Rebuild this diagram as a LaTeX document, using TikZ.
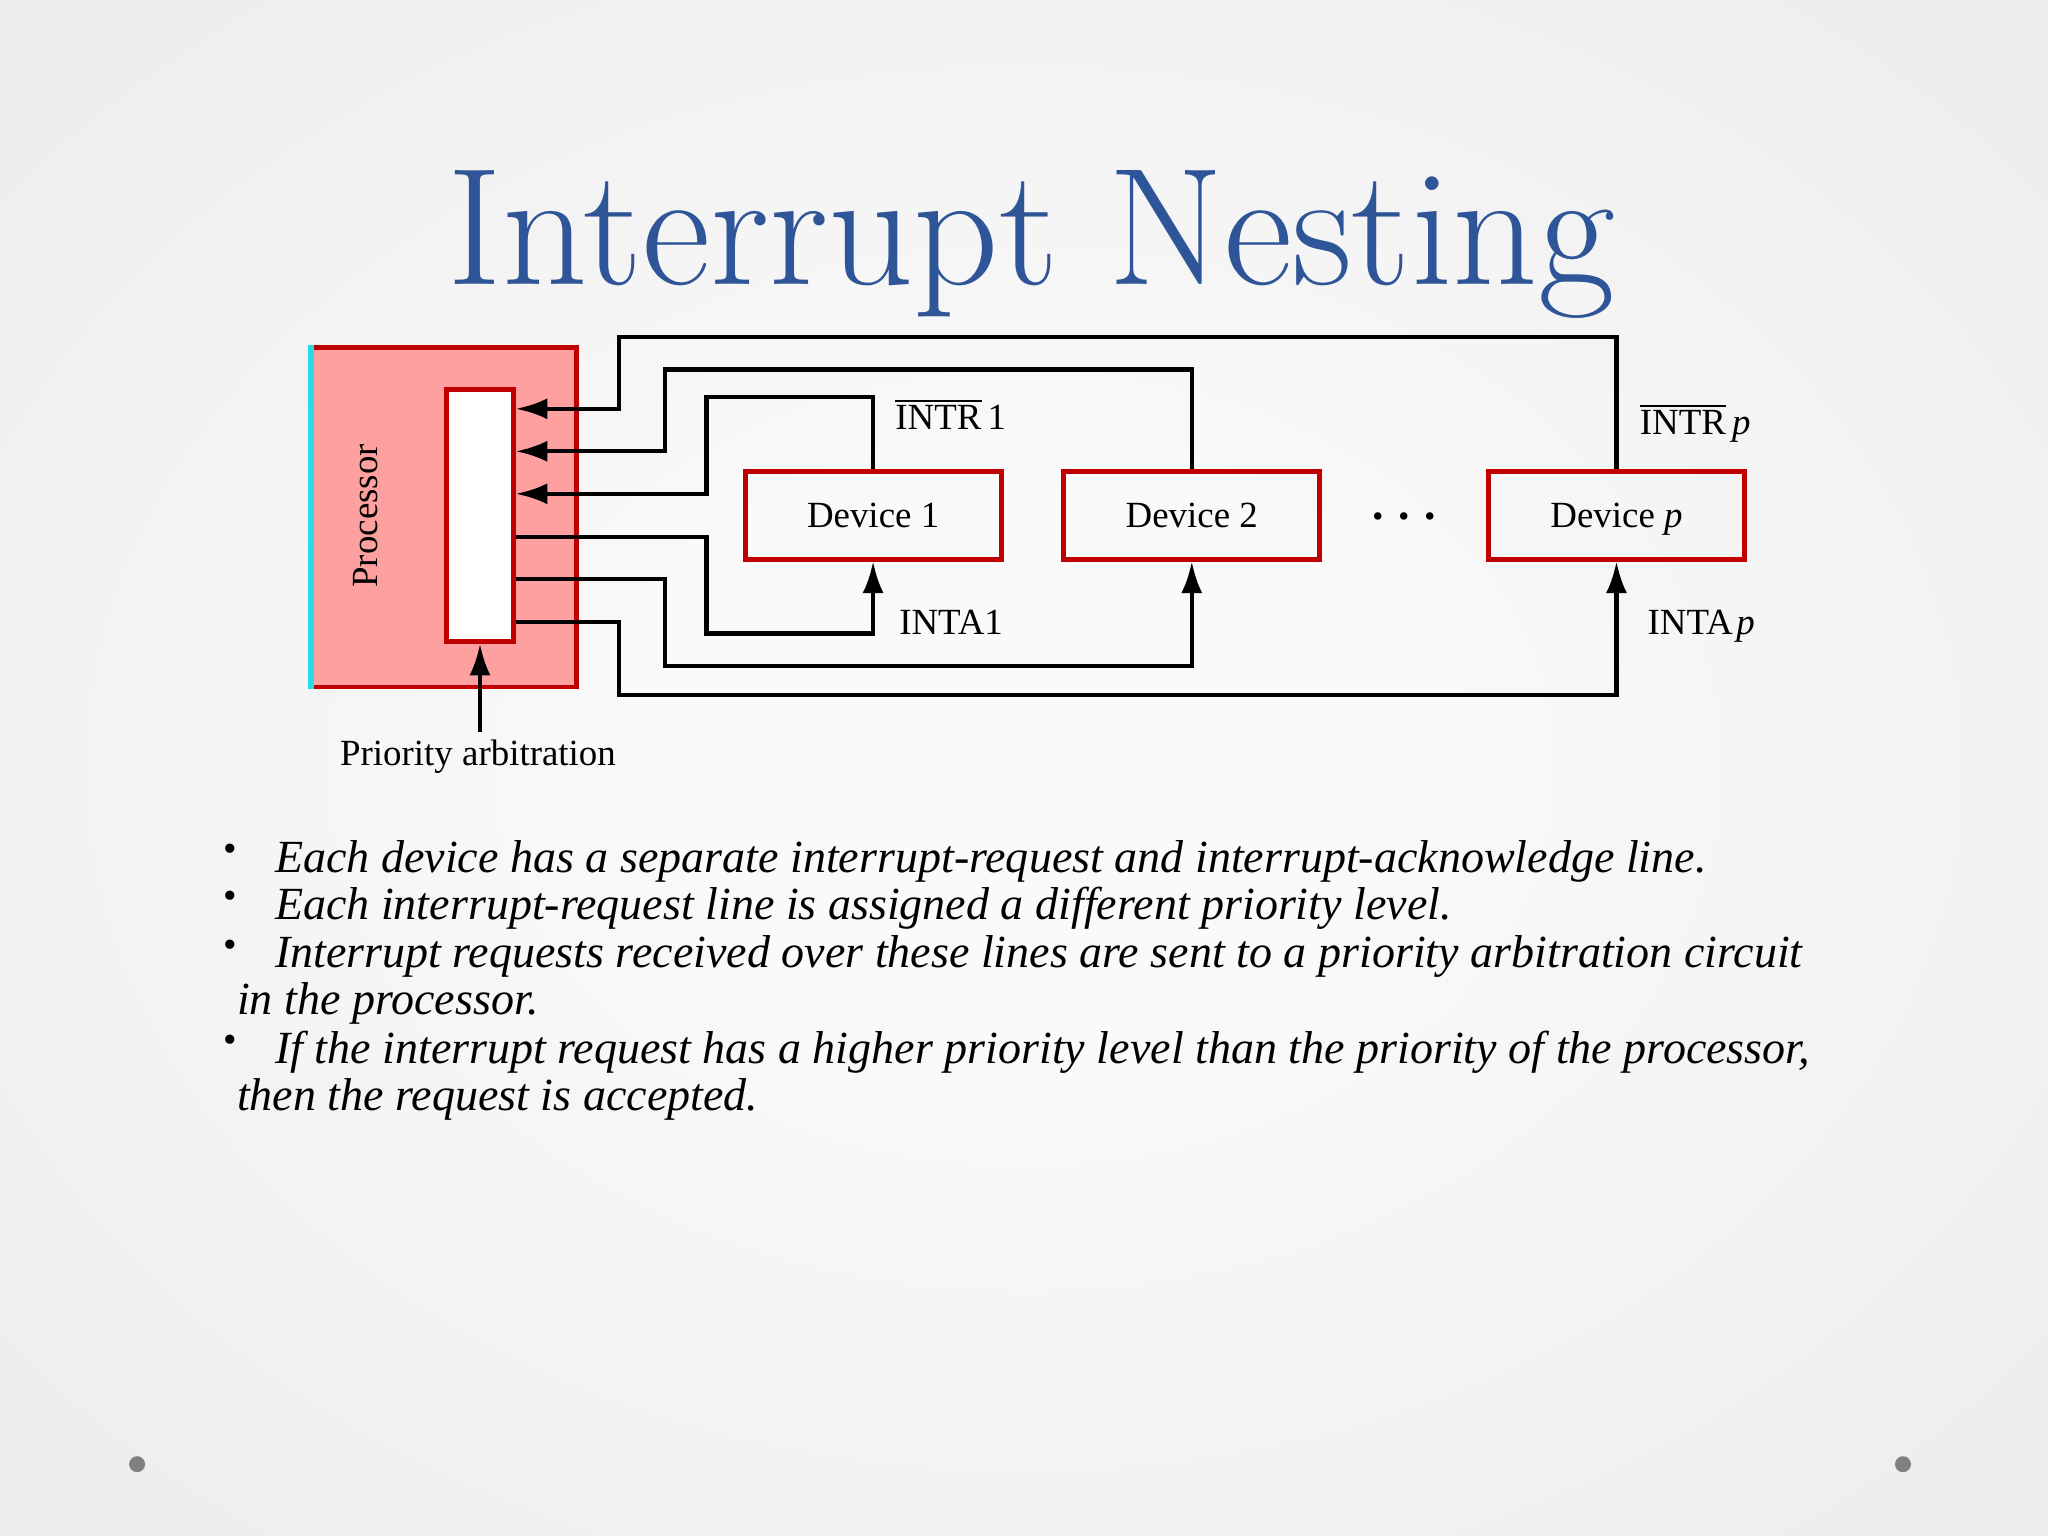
\documentclass[tikz,border=0pt]{standalone}
\usepackage{fontspec}
\newfontfamily\diagfont{Liberation Serif}
\usetikzlibrary{arrows.meta,positioning,calc}
\definecolor{titleblue}{RGB}{46,85,151}
\definecolor{devred}{RGB}{192,0,0}
\definecolor{procfill}{RGB}{255,160,160}
\definecolor{procedge}{RGB}{40,220,230}
\definecolor{bgin}{RGB}{250,250,250}
\definecolor{bgmid}{RGB}{229,229,229}
\definecolor{bgout}{RGB}{214,214,214}
\definecolor{dotgray}{RGB}{128,128,128}
\pgfdeclareradialshading{slidebg}{\pgfpoint{0bp}{0bp}}{color(0bp)=(bgin); color(8bp)=(bgin); color(50bp)=(bgmid); color(72bp)=(bgout)}

\begin{document}
\begin{tikzpicture}[
    wire/.style={line width=1.2pt},
    arrowtip/.style={-{Latex[length=9pt,width=6pt]}},
    redbox/.style={draw=devred, line width=1.4pt},
    device/.style={redbox, minimum width=2.56cm, minimum height=0.875cm, text height=7.2pt, text depth=0pt, font=\diagfont\fontsize{10.5}{12}\selectfont},
    signame/.style={font=\diagfont\fontsize{10.5}{12}\selectfont},
    bulletline/.style={anchor=base west, inner sep=0pt, font=\diagfont\itshape\fontsize{13.1}{14}\selectfont},
    bulletdot/.style={inner sep=0pt, font=\diagfont\fontsize{11}{11}\selectfont}
]
    % Slide background
    \shade[shading=slidebg] (0,0) rectangle (20.48,-15.36);
    \useasboundingbox (0,0) rectangle (20.48,-15.36);

    % Title
    \node[anchor=base, font=\fontsize{47.5}{54}\selectfont, text=titleblue] (title) at (10.312,-2.847) {Interrupt Nesting};

    % Processor with priority arbitration circuit
    \node[redbox, fill=procfill, minimum width=2.651cm, minimum height=3.396cm] (proc) at (4.435,-5.172) {};
    \draw[procedge, line width=1.6pt] ([xshift=0.7pt]proc.north west) -- ([xshift=0.7pt]proc.south west);
    \node[signame, rotate=90] (proclabel) at (3.657,-5.159) {Processor};
    \node[redbox, fill=white, minimum width=0.666cm, minimum height=2.521cm] (arb) at (4.800,-5.153) {};

    % Devices
    \node[device] (dev1) at (8.731,-5.153) {Device 1};
    \node[device] (dev2) at (11.918,-5.153) {Device 2};
    \node[device] (devp) at (16.165,-5.153) {Device \textit{p}};
    \node[font=\diagfont\bfseries\fontsize{13}{13}\selectfont, inner sep=0pt] (dots) at (14.041,-5.160) {.\hspace{4.2pt}.\hspace{4.2pt}.};

    % Interrupt-request lines
    \draw[wire, arrowtip] (dev1.north) |- ([xshift=1.907cm, yshift=1.182cm]arb.east) |- ([yshift=0.215cm]arb.east);
    \draw[wire, arrowtip] (dev2.north) |- ([xshift=1.489cm, yshift=1.457cm]arb.east) |- ([yshift=0.64cm]arb.east);
    \draw[wire, arrowtip] (devp.north) |- ([xshift=1.032cm, yshift=1.783cm]arb.east) |- ([yshift=1.065cm]arb.east);

    % Interrupt-acknowledge lines
    \draw[wire, arrowtip] ([yshift=-0.215cm]arb.east) -| ([xshift=1.907cm, yshift=-1.182cm]arb.east) -| (dev1.south);
    \draw[wire, arrowtip] ([yshift=-0.64cm]arb.east) -| ([xshift=1.489cm, yshift=-1.508cm]arb.east) -| (dev2.south);
    \draw[wire, arrowtip] ([yshift=-1.065cm]arb.east) -| ([xshift=1.032cm, yshift=-1.796cm]arb.east) -| (devp.south);

    % Line names
    \node[signame, anchor=base west, inner sep=0pt] (intr1) at (8.947,-4.300) {\(\overline{\hbox{INTR}}\)\,1};
    \node[signame, anchor=base west, inner sep=0pt] (intrp) at (16.392,-4.350) {\(\overline{\hbox{INTR}}\)\,\textit{p}};
    \node[signame, anchor=base west, inner sep=0pt] (inta1) at (8.986,-6.340) {INTA1};
    \node[signame, anchor=base west, inner sep=0pt] (intap) at (16.470,-6.340) {INTA\kern1pt\textit{p}};

    % Priority arbitration
    \node[signame, anchor=base, inner sep=2pt] (prio) at (4.780,-7.653) {Priority arbitration};
    \draw[wire, arrowtip] (prio.north -| arb.south) -- (arb.south);

    % Bullet points
    \node[bulletdot] (b1) at (2.299,-8.530) {•};
    \node[bulletdot] (b2) at (2.299,-9.000) {•};
    \node[bulletdot] (b3) at (2.299,-9.483) {•};
    \node[bulletdot] (b4) at (2.299,-10.437) {•};
    \node[bulletline] (l1) at (2.743,-8.725) {Each device has a separate interrupt-request and interrupt-acknowledge line.};
    \node[bulletline] (l2) at (2.743,-9.195) {Each interrupt-request line is assigned a different priority level.};
    \node[bulletline] (l3) at (2.743,-9.678) {Interrupt requests received over these lines are sent to a priority arbitration circuit};
    \node[bulletline] (l4) at (2.364,-10.149) {in the processor.};
    \node[bulletline] (l5) at (2.743,-10.632) {If the interrupt request has a higher priority level than the priority of the processor,};
    \node[bulletline] (l6) at (2.364,-11.102) {then the request is accepted.};

    % Slide corner dots
    \fill[dotgray] (1.371,-14.642) circle (0.08);
    \fill[dotgray] (19.030,-14.642) circle (0.08);
\end{tikzpicture}
\end{document}
